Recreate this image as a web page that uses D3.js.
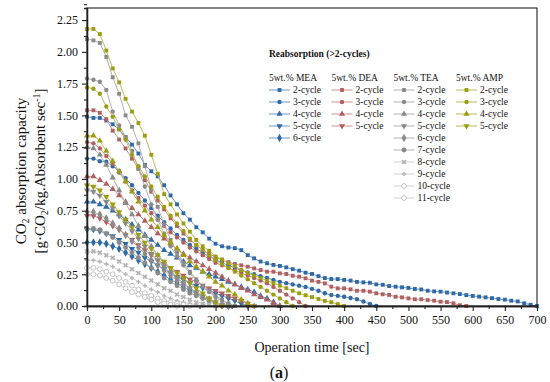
<!DOCTYPE html>
<html><head><meta charset="utf-8">
<script src="https://cdn.jsdelivr.net/npm/d3@7"></script>
<style>
body{margin:0;background:#fff}
svg{display:block}
text{font-family:"Liberation Serif","Times New Roman",serif;fill:#111}
</style>
</head><body>
<svg id="chart" width="550" height="382"></svg>
<script>
// ---------- data ----------
const xTicks = [0,50,100,150,200,250,300,350,400,450,500,550,600,650,700];
const yTicks = [0,0.25,0.5,0.75,1.0,1.25,1.5,1.75,2.0,2.25];
const timeStep = 10; // seconds between measured points, first point at t = 0

const amines = ["5wt.% MEA","5wt.% DEA","5wt.% TEA","5wt.% AMP"];
const meaCycles = ["2-cycle","3-cycle","4-cycle","5-cycle","6-cycle"];
const deaCycles = ["2-cycle","3-cycle","4-cycle","5-cycle"];
const teaCycles = ["2-cycle","3-cycle","4-cycle","5-cycle","6-cycle","7-cycle","8-cycle","9-cycle","10-cycle","11-cycle"];
const ampCycles = ["2-cycle","3-cycle","4-cycle","5-cycle"];

const mea2 = [1.49,1.48,1.48,1.46,1.43,1.39,1.33,1.27,1.20,1.11,1.06,1.02,0.95,0.87,0.80,0.73,0.68,0.62,0.58,0.53,0.49,0.47,0.46,0.455,0.44,0.40,0.375,0.35,0.336,0.323,0.315,0.304,0.29,0.278,0.262,0.252,0.235,0.22,0.212,0.212,0.205,0.20,0.19,0.186,0.183,0.17,0.167,0.157,0.152,0.147,0.142,0.134,0.13,0.12,0.115,0.113,0.106,0.10,0.094,0.086,0.079,0.074,0.068,0.062,0.055,0.05,0.042,0.036,0.021,0.01,0.0];
const mea3 = [1.16,1.16,1.14,1.135,1.10,1.06,1.005,0.95,0.89,0.83,0.77,0.71,0.66,0.61,0.56,0.52,0.48,0.45,0.42,0.39,0.365,0.34,0.32,0.30,0.28,0.265,0.25,0.235,0.22,0.205,0.19,0.18,0.17,0.16,0.15,0.135,0.12,0.10,0.087,0.08,0.073,0.063,0.053,0.035,0.016,0.0];
const mea4 = [0.82,0.82,0.80,0.78,0.75,0.72,0.68,0.64,0.60,0.56,0.52,0.48,0.44,0.41,0.38,0.35,0.32,0.30,0.27,0.25,0.23,0.21,0.19,0.17,0.15,0.13,0.11,0.08,0.06,0.03,0.0];
const mea5 = [0.60,0.60,0.59,0.57,0.55,0.52,0.49,0.45,0.42,0.38,0.35,0.32,0.29,0.26,0.23,0.21,0.18,0.16,0.14,0.12,0.10,0.08,0.06,0.04,0.02,0.0];
const mea6 = [0.50,0.50,0.50,0.49,0.47,0.45,0.42,0.39,0.36,0.33,0.30,0.27,0.24,0.21,0.18,0.15,0.12,0.10,0.07,0.05,0.03,0.01,0.0];

const dea2 = [1.54,1.54,1.52,1.47,1.38,1.31,1.24,1.16,1.08,0.99,0.90,0.83,0.76,0.69,0.63,0.57,0.52,0.48,0.44,0.41,0.385,0.36,0.345,0.33,0.32,0.309,0.296,0.283,0.27,0.27,0.257,0.252,0.238,0.231,0.218,0.20,0.19,0.178,0.152,0.139,0.139,0.131,0.12,0.12,0.113,0.10,0.092,0.087,0.073,0.068,0.06,0.053,0.053,0.047,0.042,0.034,0.031,0.021,0.006,0.0];
const dea3 = [1.29,1.28,1.24,1.18,1.12,1.05,0.98,0.91,0.85,0.79,0.73,0.68,0.63,0.58,0.54,0.50,0.46,0.43,0.40,0.37,0.34,0.32,0.30,0.28,0.26,0.24,0.22,0.20,0.18,0.15,0.12,0.09,0.06,0.03,0.0];
const dea4 = [1.02,1.02,0.99,0.96,0.92,0.87,0.82,0.77,0.72,0.67,0.62,0.57,0.53,0.49,0.45,0.41,0.38,0.35,0.32,0.29,0.26,0.23,0.20,0.17,0.14,0.12,0.09,0.07,0.05,0.02,0.0];
const dea5 = [0.71,0.71,0.69,0.66,0.63,0.60,0.56,0.52,0.48,0.44,0.40,0.36,0.33,0.30,0.27,0.24,0.21,0.19,0.16,0.14,0.12,0.10,0.08,0.06,0.04,0.02,0.0];

const tea2 = [2.10,2.09,2.07,1.96,1.80,1.67,1.50,1.41,1.28,1.10,0.92,0.78,0.64,0.52,0.42,0.34,0.27,0.21,0.16,0.12,0.08,0.05,0.02,0.0];
const tea3 = [1.79,1.78,1.765,1.70,1.53,1.42,1.33,1.22,1.08,0.94,0.80,0.68,0.57,0.47,0.39,0.32,0.26,0.20,0.15,0.11,0.07,0.04,0.02,0.0];
const tea4 = [1.25,1.24,1.19,1.11,1.01,0.91,0.81,0.72,0.63,0.55,0.47,0.40,0.34,0.28,0.23,0.18,0.14,0.10,0.07,0.05,0.03,0.01,0.0];
const tea5 = [0.91,0.90,0.87,0.82,0.77,0.71,0.65,0.59,0.53,0.47,0.41,0.36,0.31,0.26,0.22,0.18,0.14,0.11,0.08,0.05,0.03,0.01,0.0];
const tea6 = [0.74,0.74,0.72,0.69,0.65,0.61,0.56,0.51,0.46,0.41,0.36,0.32,0.28,0.24,0.20,0.17,0.14,0.11,0.08,0.05,0.03,0.01,0.0];
const tea7 = [0.61,0.61,0.60,0.57,0.54,0.50,0.46,0.42,0.38,0.34,0.30,0.26,0.22,0.19,0.16,0.13,0.10,0.08,0.06,0.04,0.02,0.0];
const tea8 = [0.43,0.43,0.42,0.40,0.38,0.35,0.32,0.29,0.26,0.23,0.20,0.17,0.14,0.12,0.09,0.07,0.05,0.03,0.02,0.01,0.0];
const tea9 = [0.36,0.36,0.35,0.33,0.31,0.28,0.25,0.22,0.19,0.16,0.13,0.11,0.08,0.06,0.04,0.03,0.02,0.01,0.0];
const tea10 = [0.30,0.30,0.29,0.27,0.25,0.22,0.19,0.16,0.13,0.10,0.08,0.06,0.04,0.03,0.02,0.01,0.0];
const tea11 = [0.25,0.25,0.24,0.22,0.20,0.17,0.14,0.11,0.09,0.07,0.05,0.03,0.02,0.01,0.0];

const amp2 = [2.18,2.18,2.14,2.01,1.87,1.76,1.63,1.53,1.44,1.34,1.19,1.04,0.88,0.80,0.72,0.65,0.585,0.52,0.47,0.435,0.39,0.367,0.336,0.315,0.283,0.26,0.24,0.22,0.20,0.18,0.16,0.14,0.12,0.10,0.085,0.07,0.055,0.04,0.03,0.015,0.0];
const amp3 = [1.72,1.71,1.67,1.57,1.49,1.39,1.31,1.19,1.10,1.02,0.94,0.86,0.78,0.71,0.65,0.59,0.53,0.48,0.44,0.40,0.36,0.33,0.30,0.27,0.24,0.21,0.18,0.15,0.12,0.09,0.06,0.03,0.0];
const amp4 = [1.34,1.34,1.30,1.22,1.14,1.06,0.98,0.90,0.82,0.75,0.68,0.62,0.56,0.50,0.45,0.40,0.35,0.31,0.27,0.23,0.19,0.16,0.12,0.09,0.05,0.02,0.0];
const amp5 = [0.95,0.94,0.91,0.86,0.80,0.74,0.68,0.62,0.56,0.50,0.45,0.40,0.35,0.30,0.26,0.22,0.18,0.14,0.10,0.06,0.03,0.0];

// ---------- structure ----------
const groups = [
  {name: amines[0], cycles: meaCycles, data: [mea2,mea3,mea4,mea5,mea6]},
  {name: amines[1], cycles: deaCycles, data: [dea2,dea3,dea4,dea5]},
  {name: amines[2], cycles: teaCycles, data: [tea2,tea3,tea4,tea5,tea6,tea7,tea8,tea9,tea10,tea11]},
  {name: amines[3], cycles: ampCycles, data: [amp2,amp3,amp4,amp5]}
];

// ---------- styles ----------
const serif = '"Liberation Serif","Times New Roman",serif';
const groupMarker = ["#2f69a6","#b0605f","#8a8a8a","#9d9d14"];
const groupLine   = ["#6f98c8","#c79292","#b0b0b0","#bcbc5a"];
const lightMarker = "#b4b4b4", lightLine = "#cfcfcf";

function symbolFor(label){
  switch(label){
    case "2-cycle": return {type:d3.symbolSquare,size:15,rot:0,fill:true};
    case "3-cycle": return {type:d3.symbolCircle,size:15,rot:0,fill:true};
    case "4-cycle": return {type:d3.symbolTriangle,size:17,rot:0,fill:true};
    case "5-cycle": return {type:d3.symbolTriangle,size:17,rot:180,fill:true};
    case "6-cycle": return {type:d3.symbolDiamond,size:20,rot:0,fill:true};
    case "7-cycle": return {type:d3.symbolCircle,size:19,rot:0,fill:true};
    case "8-cycle": return {type:d3.symbolCross,size:16,rot:45,fill:true};
    case "9-cycle": return {type:d3.symbolCross,size:10,rot:0,fill:true};
    default: return {type:d3.symbolCircle,size:18,rot:0,fill:false};
  }
}

// ---------- chart ----------
const svg = d3.select("#chart");
const x = d3.scaleLinear().domain([0,700]).range([87,537]);
const y = d3.scaleLinear().domain([0,2.345]).range([306,8]);

const plot = svg.append("g");
const line = d3.line().x(d=>x(d.t)).y(d=>y(d.v));

groups.forEach((g,gi)=>{
  g.data.forEach((vals,si)=>{
    const label = g.cycles[si];
    const isLight = gi===2 && si>=6;
    const mc = isLight ? lightMarker : groupMarker[gi];
    const lc = isLight ? lightLine : groupLine[gi];
    const pts = vals.map((v,i)=>({t:i*timeStep, v}));
    plot.append("path").datum(pts)
      .attr("fill","none").attr("stroke",lc).attr("stroke-width",1)
      .attr("d",line);
    const s = symbolFor(label);
    const sym = d3.symbol().type(s.type).size(s.size);
    plot.selectAll(null).data(pts).enter().append("path")
      .attr("d",sym)
      .attr("transform",d=>`translate(${x(d.t)},${y(d.v)}) rotate(${s.rot})`)
      .attr("fill", s.fill ? mc : "#fff")
      .attr("stroke", s.fill ? "none" : mc)
      .attr("stroke-width",0.8);
  });
});

// frame
svg.append("rect").attr("x",87).attr("y",8).attr("width",450).attr("height",298)
  .attr("fill","none").attr("stroke","#222").attr("stroke-width",1.1);

// axes
const xAxis = svg.append("g").attr("transform","translate(0,306)")
  .call(d3.axisBottom(x).tickValues(xTicks).tickSize(5).tickSizeOuter(0).tickPadding(4).tickFormat(d3.format("d")));
const xMinor = svg.append("g").attr("transform","translate(0,306)")
  .call(d3.axisBottom(x).tickValues(xTicks.slice(0,-1).map(v=>v+25)).tickSize(3).tickFormat(""));
const yAxis = svg.append("g").attr("transform","translate(87,0)")
  .call(d3.axisLeft(y).tickValues(yTicks).tickSize(5).tickSizeOuter(0).tickPadding(4).tickFormat(d3.format(".2f")));
const yMinor = svg.append("g").attr("transform","translate(87,0)")
  .call(d3.axisLeft(y).tickValues(yTicks.map(v=>v+0.125)).tickSize(3).tickFormat(""));
[xAxis,xMinor,yAxis,yMinor].forEach(a=>{
  a.attr("font-family",null);
  a.select(".domain").attr("stroke","#222").attr("stroke-width",1.3);
  a.selectAll(".tick line").attr("stroke","#222").attr("stroke-width",1.1);
  a.selectAll("text").style("font-family",serif).style("font-size","12px").attr("fill","#111");
});

// axis titles
svg.append("text").attr("x",312).attr("y",352).attr("text-anchor","middle")
  .attr("font-size",14).text("Operation time [sec]");

const yt1 = svg.append("text").attr("transform","translate(26,171) rotate(-90)")
  .attr("text-anchor","middle").attr("font-size",15);
yt1.append("tspan").text("CO");
yt1.append("tspan").attr("font-size",10).attr("dy",3).text("2");
yt1.append("tspan").attr("dy",-3).text(" absorption capacity");

const yt2 = svg.append("text").attr("transform","translate(45,171) rotate(-90)")
  .attr("text-anchor","middle").attr("font-size",15);
yt2.append("tspan").text("[g·CO");
yt2.append("tspan").attr("font-size",10).attr("dy",3).text("2");
yt2.append("tspan").attr("dy",-3).text("/kg.Absorbent sec");
yt2.append("tspan").attr("font-size",10).attr("dy",-5).text("-1");
yt2.append("tspan").attr("dy",5).text("]");

// caption
const cap = svg.append("text").attr("x",279).attr("y",378).attr("text-anchor","middle").attr("font-size",16);
cap.append("tspan").text("(");
cap.append("tspan").attr("font-weight","bold").text("a");
cap.append("tspan").text(")");

// ---------- legend ----------
const legend = svg.append("g");
legend.append("text").attr("x",269).attr("y",57).attr("font-size",9.5).attr("font-weight","bold")
  .text("Reabsorption (>2-cycles)");
const colX = [269,331.5,393.5,456];
groups.forEach((g,gi)=>{
  const cx = colX[gi];
  legend.append("text").attr("x",cx).attr("y",81).attr("font-size",9.5).text(g.name);
  g.cycles.forEach((label,si)=>{
    const ry = 90 + si*12;
    const isLight = gi===2 && si>=6;
    const mc = isLight ? lightMarker : groupMarker[gi];
    const lc = isLight ? lightLine : groupLine[gi];
    legend.append("line").attr("x1",cx).attr("x2",cx+21).attr("y1",ry).attr("y2",ry)
      .attr("stroke",lc).attr("stroke-width",1);
    const s = symbolFor(label);
    legend.append("path").attr("d",d3.symbol().type(s.type).size(s.size))
      .attr("transform",`translate(${cx+10.5},${ry}) rotate(${s.rot})`)
      .attr("fill", s.fill ? mc : "#fff").attr("stroke", s.fill ? "none" : mc).attr("stroke-width",0.8);
    legend.append("text").attr("x",cx+24).attr("y",ry+3.3).attr("font-size",9.5).text(label);
  });
});
</script>
</body></html>
